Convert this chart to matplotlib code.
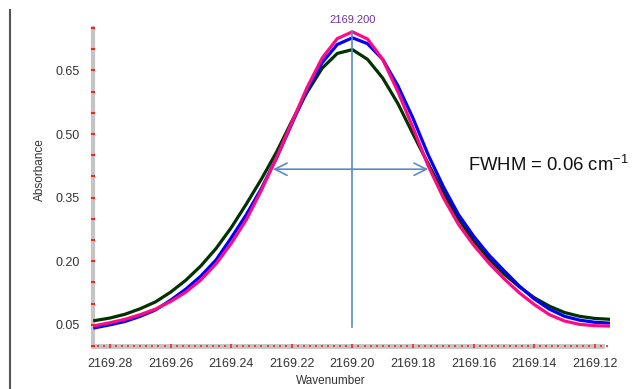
import matplotlib
matplotlib.use('Agg')
import matplotlib.pyplot as plt
from matplotlib.lines import Line2D
from matplotlib.ticker import FixedLocator, MultipleLocator

plt.rcParams['font.family'] = ['Liberation Sans', 'DejaVu Sans']

# Wavenumber sample points (cm-1)
wavenumber = [2169.285, 2169.28, 2169.275, 2169.27, 2169.265, 2169.26, 2169.255,
              2169.25, 2169.245, 2169.24, 2169.235, 2169.23, 2169.225, 2169.22,
              2169.215, 2169.21, 2169.205, 2169.20, 2169.195, 2169.19, 2169.185,
              2169.18, 2169.175, 2169.17, 2169.165, 2169.16, 2169.155, 2169.15,
              2169.145, 2169.14, 2169.135, 2169.13, 2169.125, 2169.12, 2169.115]

# Absorbance of the three spectra
green_abs = [0.060, 0.066, 0.075, 0.088, 0.104, 0.127, 0.155, 0.189, 0.230,
             0.279, 0.335, 0.394, 0.458, 0.530, 0.598, 0.655, 0.690, 0.699,
             0.676, 0.632, 0.572, 0.500, 0.430, 0.362, 0.300, 0.248, 0.206,
             0.170, 0.140, 0.114, 0.094, 0.079, 0.070, 0.065, 0.063]
blue_abs = [0.043, 0.050, 0.058, 0.070, 0.085, 0.108, 0.134, 0.165, 0.203,
            0.255, 0.310, 0.372, 0.444, 0.524, 0.603, 0.668, 0.711, 0.727,
            0.713, 0.676, 0.614, 0.537, 0.451, 0.376, 0.310, 0.259, 0.215,
            0.178, 0.142, 0.111, 0.087, 0.070, 0.061, 0.056, 0.054]
pink_abs = [0.048, 0.055, 0.063, 0.074, 0.087, 0.105, 0.127, 0.156, 0.194,
            0.242, 0.298, 0.368, 0.445, 0.527, 0.609, 0.679, 0.725, 0.741,
            0.724, 0.676, 0.600, 0.515, 0.425, 0.350, 0.287, 0.238, 0.196,
            0.159, 0.126, 0.098, 0.074, 0.059, 0.051, 0.048, 0.047]

peak_pos = 2169.20
peak_label = '2169.200'
fwhm_level = 0.417
fwhm_left = 2169.2262
fwhm_right = 2169.175
fwhm_text = r'FWHM = 0.06 cm$^{\mathregular{-1}}$'

y_major = [0.05, 0.20, 0.35, 0.50, 0.65]
y_labels = ['0.05', '0.20', '0.35', '0.50', '0.65']
x_major = [2169.28, 2169.26, 2169.24, 2169.22, 2169.20, 2169.18, 2169.16,
           2169.14, 2169.12]
x_labels = ['2169.28', '2169.26', '2169.24', '2169.22', '2169.20', '2169.18',
            '2169.16', '2169.14', '2169.12']

fig = plt.figure(figsize=(6.37, 3.89), dpi=100)
ax = fig.add_axes([0.146, 0.1105, 0.8116, 0.8175])

ax.plot(wavenumber, green_abs, color='#003300', lw=2.3, zorder=3)
ax.plot(wavenumber, blue_abs, color='#0000ff', lw=2.3, zorder=3)
ax.plot(wavenumber, pink_abs, color='#ff0a85', lw=2.3, zorder=3)

# peak marker and FWHM arrow
ax.plot([peak_pos, peak_pos], [0.045, 0.742], color='#5b8ac6', lw=1.2, zorder=4)
ax.annotate('', xy=(fwhm_left, fwhm_level), xytext=(fwhm_right, fwhm_level),
            arrowprops=dict(arrowstyle='<->', color='#5b8ac6', lw=1.2,
                            mutation_scale=22, shrinkA=0, shrinkB=0), zorder=4)
ax.text(peak_pos, 0.768, peak_label, color='#7030a0', fontsize=8,
        ha='center', va='center', clip_on=False)
ax.text(2169.1617, 0.427, fwhm_text, fontsize=13.3, ha='left', va='center',
        color='#111111')

ax.set_xlim(2169.2856, 2169.115)
ax.set_ylim(0.0, 0.75)

for side in ['top', 'right']:
    ax.spines[side].set_visible(False)
ax.spines['left'].set_color('#c4c4c4')
ax.spines['left'].set_linewidth(3)
ax.spines['bottom'].set_color('#c4c4c4')
ax.spines['bottom'].set_linewidth(3.5)
ax.spines['bottom'].set_bounds(2169.2856, 2169.1175)
ax.spines['left'].set_zorder(1)
ax.spines['bottom'].set_zorder(1)
ax.xaxis.set_zorder(2)
ax.yaxis.set_zorder(2)

ax.yaxis.set_major_locator(FixedLocator(y_major))
ax.set_yticklabels(y_labels)
ax.yaxis.set_minor_locator(MultipleLocator(0.05))
ax.xaxis.set_major_locator(FixedLocator(x_major))
ax.set_xticklabels(x_labels)
ax.xaxis.set_minor_locator(MultipleLocator(0.002))

ax.tick_params(axis='both', which='both', color='#ff2020', direction='inout',
               labelsize=9, labelcolor='#333333')
ax.tick_params(axis='y', which='major', length=3, width=1.5, pad=8)
ax.tick_params(axis='y', which='minor', length=3, width=1.5)
ax.tick_params(axis='x', which='major', length=3, width=1.2, pad=7)
ax.tick_params(axis='x', which='minor', length=1.5, width=1.2)

fig.text(40 / 637, 1 - 170 / 389, 'Absorbance', rotation=90, fontsize=8.5,
         ha='center', va='center', color='#333333')
fig.text(331 / 637, 1 - 381 / 389, 'Wavenumber', fontsize=8.5,
         ha='center', va='center', color='#333333')

# page border line on the left
fig.add_artist(Line2D([10 / 637, 10 / 637], [0, 1 - 10 / 389],
                      transform=fig.transFigure, color='#555555', lw=1.5))

fig.savefig('out.png', dpi=100)
